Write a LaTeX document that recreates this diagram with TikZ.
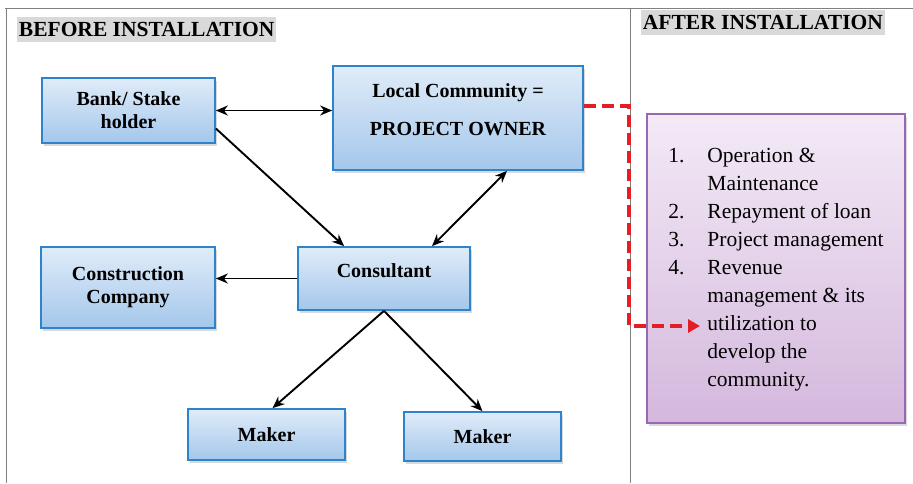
\documentclass[tikz,border=0pt]{standalone}
\usepackage{fontspec}
\setmainfont{Liberation Serif}
\usetikzlibrary{positioning, arrows.meta, shadows}

\definecolor{boxtop}{RGB}{224,236,249}
\definecolor{boxbottom}{RGB}{164,199,235}
\definecolor{boxline}{RGB}{45,132,204}
\definecolor{paneltop}{RGB}{243,234,246}
\definecolor{panelbottom}{RGB}{212,184,221}
\definecolor{panelline}{RGB}{152,104,178}
\definecolor{headgray}{RGB}{217,217,217}
\definecolor{linkred}{RGB}{228,30,38}

\begin{document}
\begin{tikzpicture}[
    x=1pt, y=-1pt,
    >={Stealth[length=12pt,width=10pt]},
    line width=1.9pt,
    blockbox/.style={
        draw=boxline,
        line width=1.7pt,
        top color=boxtop,
        bottom color=boxbottom,
        align=center,
        inner sep=0pt,
        font=\bfseries\fontsize{20}{23}\selectfont,
        drop shadow={shadow xshift=2pt, shadow yshift=-3pt, opacity=0.3}
    },
    panelbox/.style={
        draw=panelline,
        line width=1.7pt,
        top color=paneltop,
        bottom color=panelbottom,
        inner sep=0pt,
        font=\fontsize{21.5}{28}\selectfont,
        drop shadow={shadow xshift=2pt, shadow yshift=-3pt, opacity=0.3}
    },
    heading/.style={
        fill=headgray,
        anchor=west,
        inner xsep=2pt,
        inner ysep=1pt,
        text height=18pt,
        text depth=5pt,
        font=\bfseries\fontsize{21.5}{24}\selectfont
    },
    frameline/.style={draw=black!50, line width=0.8pt},
    reddash/.style={
        draw=linkred,
        line width=4pt,
        dash pattern=on 12pt off 6pt,
        -{Triangle[length=12pt,width=13pt]}
    }
]
    \useasboundingbox (0,0) rectangle (913,483);

    % table frame
    \draw[frameline] (5,8) -- (913,8);
    \draw[frameline] (6,8) -- (6,483);
    \draw[frameline] (630,8) -- (630,483);

    \node[heading] (before) at (16,29.5) {BEFORE INSTALLATION};
    \node[heading] (after) at (640,22.5) {AFTER INSTALLATION};

    % parties before installation
    \node[blockbox, minimum width=173pt, minimum height=65pt] (bank) at (128.5,110.5) {Bank/ Stake\\holder};
    \node[blockbox, minimum width=250pt, minimum height=104pt, text depth=16pt,
          font=\bfseries\fontsize{20}{38}\selectfont] (local) at (458,118) {Local Community =\\PROJECT OWNER};
    \node[blockbox, minimum width=172pt, minimum height=63pt, text depth=16pt] (consultant) at (384,278.5) {Consultant};
    \node[blockbox, minimum width=174pt, minimum height=81pt] (construction) at (128,287.5) {Construction\\Company};
    \node[blockbox, minimum width=157pt, minimum height=51pt] (maker1) at (266.5,434.5) {Maker};
    \node[blockbox, minimum width=157pt, minimum height=49pt] (maker2) at (482.5,436.5) {Maker};

    % duties after installation
    \node[panelbox, minimum width=258pt, minimum height=309pt] (duties) at (776,268.5) {%
        \begin{tabular}{@{}p{39pt}@{}l@{}}
        1. & Operation \& \\
           & Maintenance \\
        2. & Repayment of loan \\
        3. & Project management \\
        4. & Revenue \\
           & management \& its \\
           & utilization to \\
           & develop the \\
           & community.
        \end{tabular}};

    \draw[<->] (bank) -- (bank -| local.west);
    \draw[->] ([yshift=-18pt]bank.east) -- ([xshift=47pt]consultant.north west);
    \draw[<->] ([xshift=48pt]consultant.north) -- ([xshift=49pt]local.south);
    \draw[->] (consultant.west) -- (consultant.west -| construction.east);
    \draw[->] (consultant.south) -- ([xshift=6pt]maker1.north);
    \draw[->] (consultant.south) -- (maker2.north);

    % owner takes over
    \coordinate (bend) at (629,326);
    \coordinate (tip) at (700,326);
    \draw[reddash] ([yshift=12pt]local.east) -| (bend) -- (tip);
\end{tikzpicture}
\end{document}
